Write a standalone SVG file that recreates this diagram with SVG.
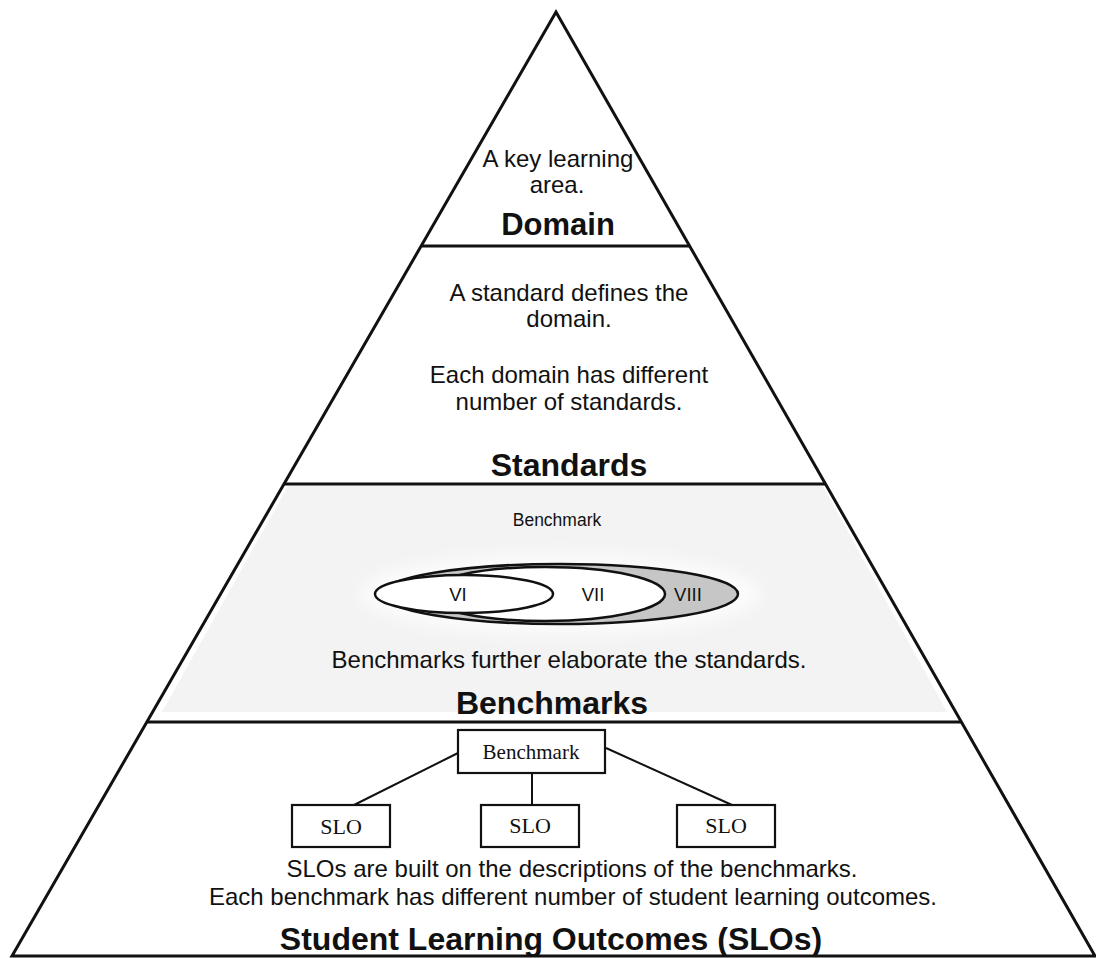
<svg xmlns="http://www.w3.org/2000/svg" width="1096" height="958" viewBox="0 0 1096 958">
<defs>
<filter id="blur" x="-20%" y="-50%" width="140%" height="200%"><feGaussianBlur stdDeviation="8"/></filter>
</defs>
<style>
.edge{fill:none;stroke:#111;stroke-width:3;stroke-linejoin:miter}
.div{stroke:#111;stroke-width:3.2}
.body{font-family:"Liberation Sans",Arial,sans-serif;font-size:24px;fill:#111;text-anchor:middle}
.title{font-family:"Liberation Sans",Arial,sans-serif;font-size:32px;font-weight:bold;fill:#111;text-anchor:middle}
.small{font-family:"Liberation Sans",Arial,sans-serif;font-size:17.5px;fill:#111;text-anchor:middle}
.lbl{font-family:"Liberation Sans",Arial,sans-serif;font-size:18.5px;fill:#111;text-anchor:middle}
.serif{font-family:"Liberation Serif","Times New Roman",serif;font-size:21px;fill:#111;text-anchor:middle}
.box{fill:#fff;stroke:#111;stroke-width:2.2}
.ell{stroke:#111;stroke-width:2.5}
.conn{stroke:#111;stroke-width:2;fill:none}
</style>
<rect width="1096" height="958" fill="#fff"/>
<g id="band-benchmarks">
<polygon points="288,486 823,486 947,712 162,712" fill="#f3f3f3"/>
<ellipse cx="560" cy="594" rx="200" ry="40" fill="#fcfcfc" filter="url(#blur)"/>
</g>
<g id="pyramid">
<polygon class="edge" points="556,12 1095,956 12,956"/>
<line class="div" x1="421" y1="246" x2="690" y2="246"/>
<line class="div" x1="284" y1="484" x2="826" y2="484"/>
<line class="div" x1="147" y1="722" x2="961" y2="722"/>
</g>
<g id="domain">
<text class="body" x="558" y="167">A key learning</text>
<text class="body" x="557" y="193">area.</text>
<text class="title" x="558" y="235" style="font-size:31px">Domain</text>
</g>
<g id="standards">
<text class="body" x="569" y="301">A standard defines the</text>
<text class="body" x="569" y="327">domain.</text>
<text class="body" x="569" y="383">Each domain has different</text>
<text class="body" x="569" y="410">number of standards.</text>
<text class="title" x="569" y="476">Standards</text>
</g>
<g id="benchmarks">
<text class="small" x="557" y="526">Benchmark</text>
<g id="venn">
<ellipse class="ell" cx="560" cy="594" rx="178" ry="30" fill="#c6c6c6"/>
<ellipse class="ell" cx="545" cy="594" rx="120" ry="27" fill="#fff"/>
<ellipse class="ell" cx="464" cy="594" rx="89" ry="19" fill="#fff"/>
<text class="lbl" x="458" y="601">VI</text>
<text class="lbl" x="593" y="601">VII</text>
<text class="lbl" x="688" y="601">VIII</text>
</g>
<text class="body" x="569" y="668">Benchmarks further elaborate the standards.</text>
<text class="title" x="552" y="714">Benchmarks</text>
</g>
<g id="connectors">
<line class="conn" x1="458" y1="753" x2="354" y2="805"/>
<line class="conn" x1="532" y1="773" x2="532" y2="805"/>
<line class="conn" x1="606" y1="748" x2="732" y2="805"/>
</g>
<g id="node-benchmark">
<rect class="box" x="458" y="730" width="147" height="43"/>
<text class="serif" x="531" y="759">Benchmark</text>
</g>
<g id="node-slo1">
<rect class="box" x="292" y="805" width="98" height="42"/>
<text class="serif" x="341" y="834" style="font-size:22px">SLO</text>
</g>
<g id="node-slo2">
<rect class="box" x="481" y="805" width="98" height="42"/>
<text class="serif" x="530" y="833" style="font-size:22px">SLO</text>
</g>
<g id="node-slo3">
<rect class="box" x="677" y="805" width="98" height="42"/>
<text class="serif" x="726" y="833" style="font-size:22px">SLO</text>
</g>
<g id="slos">
<text class="body" x="572" y="877">SLOs are built on the descriptions of the benchmarks.</text>
<text class="body" x="573" y="905">Each benchmark has different number of student learning outcomes.</text>
<text class="title" x="551" y="950">Student Learning Outcomes (SLOs)</text>
</g>
</svg>
